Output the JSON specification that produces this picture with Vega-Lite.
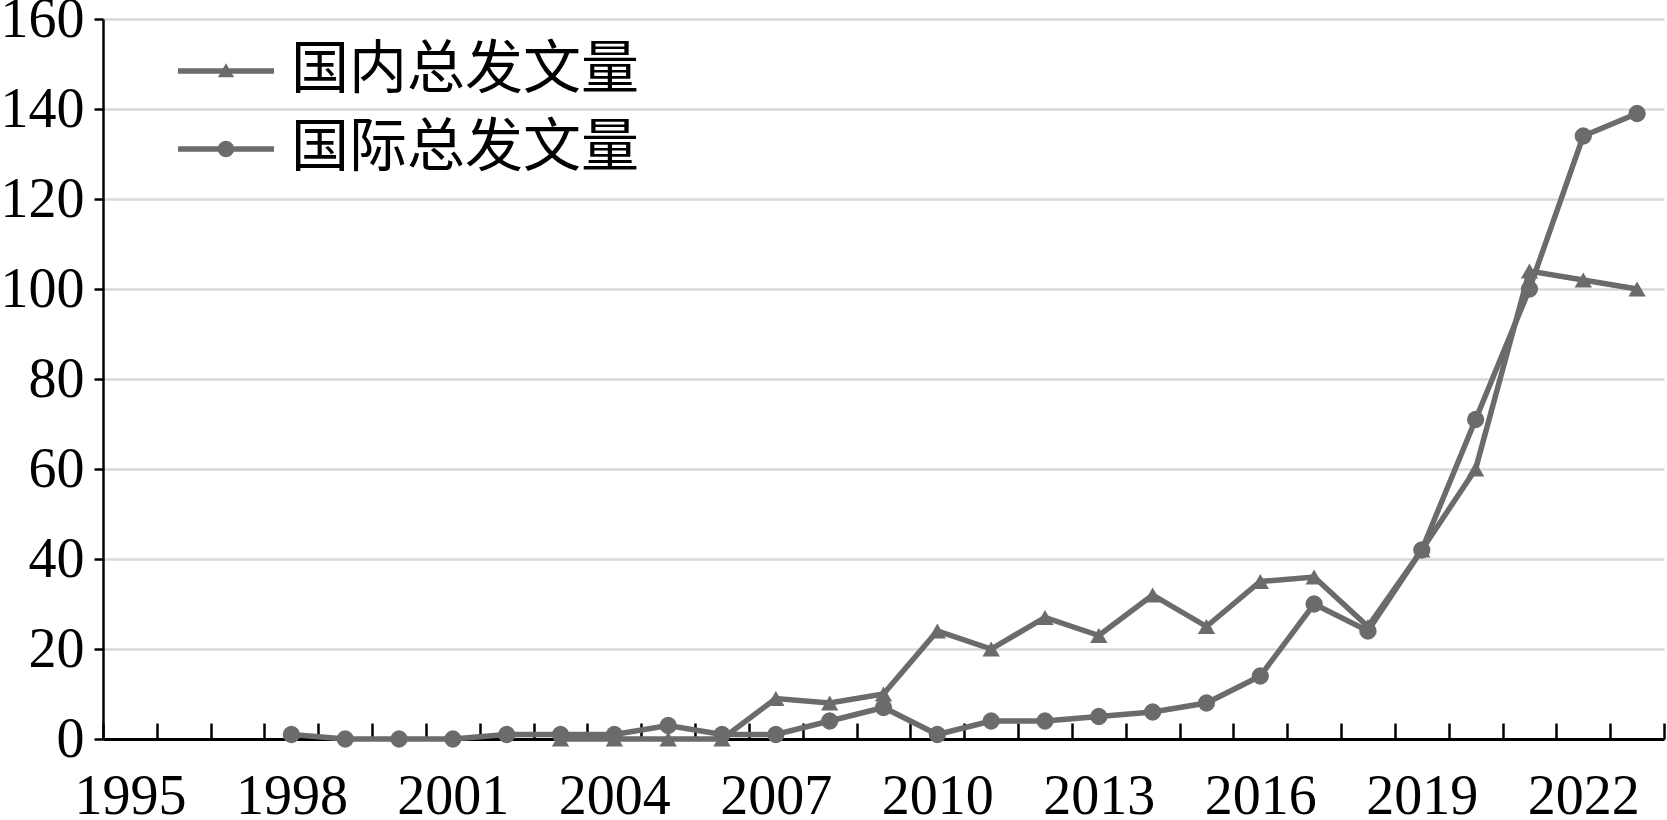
{
  "$schema": "https://vega.github.io/schema/vega-lite/v6.json",
  "autosize": {"type": "none"},
  "width": 1561,
  "height": 720,
  "padding": {"left": 103, "top": 19, "right": 3, "bottom": 81},
  "background": "white",
  "config": {
    "view": {"stroke": null},
    "axis": {
      "labelFont": "Liberation Serif",
      "labelFontSize": 56,
      "labelColor": "black",
      "domainColor": "black",
      "tickColor": "black",
      "title": null
    }
  },
  "data": {
    "values": [
      {"year": 1998, "series": "国际总发文量", "value": 1},
      {"year": 1999, "series": "国际总发文量", "value": 0},
      {"year": 2000, "series": "国际总发文量", "value": 0},
      {"year": 2001, "series": "国际总发文量", "value": 0},
      {"year": 2002, "series": "国际总发文量", "value": 1},
      {"year": 2003, "series": "国际总发文量", "value": 1},
      {"year": 2004, "series": "国际总发文量", "value": 1},
      {"year": 2005, "series": "国际总发文量", "value": 3},
      {"year": 2006, "series": "国际总发文量", "value": 1},
      {"year": 2007, "series": "国际总发文量", "value": 1},
      {"year": 2008, "series": "国际总发文量", "value": 4},
      {"year": 2009, "series": "国际总发文量", "value": 7},
      {"year": 2010, "series": "国际总发文量", "value": 1},
      {"year": 2011, "series": "国际总发文量", "value": 4},
      {"year": 2012, "series": "国际总发文量", "value": 4},
      {"year": 2013, "series": "国际总发文量", "value": 5},
      {"year": 2014, "series": "国际总发文量", "value": 6},
      {"year": 2015, "series": "国际总发文量", "value": 8},
      {"year": 2016, "series": "国际总发文量", "value": 14},
      {"year": 2017, "series": "国际总发文量", "value": 30},
      {"year": 2018, "series": "国际总发文量", "value": 24},
      {"year": 2019, "series": "国际总发文量", "value": 42},
      {"year": 2020, "series": "国际总发文量", "value": 71},
      {"year": 2021, "series": "国际总发文量", "value": 100},
      {"year": 2022, "series": "国际总发文量", "value": 134},
      {"year": 2023, "series": "国际总发文量", "value": 139},
      {"year": 2003, "series": "国内总发文量", "value": 0},
      {"year": 2004, "series": "国内总发文量", "value": 0},
      {"year": 2005, "series": "国内总发文量", "value": 0},
      {"year": 2006, "series": "国内总发文量", "value": 0},
      {"year": 2007, "series": "国内总发文量", "value": 9},
      {"year": 2008, "series": "国内总发文量", "value": 8},
      {"year": 2009, "series": "国内总发文量", "value": 10},
      {"year": 2010, "series": "国内总发文量", "value": 24},
      {"year": 2011, "series": "国内总发文量", "value": 20},
      {"year": 2012, "series": "国内总发文量", "value": 27},
      {"year": 2013, "series": "国内总发文量", "value": 23},
      {"year": 2014, "series": "国内总发文量", "value": 32},
      {"year": 2015, "series": "国内总发文量", "value": 25},
      {"year": 2016, "series": "国内总发文量", "value": 35},
      {"year": 2017, "series": "国内总发文量", "value": 36},
      {"year": 2018, "series": "国内总发文量", "value": 25},
      {"year": 2019, "series": "国内总发文量", "value": 42},
      {"year": 2020, "series": "国内总发文量", "value": 60},
      {"year": 2021, "series": "国内总发文量", "value": 104},
      {"year": 2022, "series": "国内总发文量", "value": 102},
      {"year": 2023, "series": "国内总发文量", "value": 100}
    ]
  },
  "encoding": {
    "x": {
      "field": "year",
      "type": "quantitative",
      "scale": {"domain": [1994.5, 2023.5], "nice": false, "zero": false},
      "axis": {
        "values": [1994.5, 1995.5, 1996.5, 1997.5, 1998.5, 1999.5, 2000.5, 2001.5, 2002.5, 2003.5, 2004.5, 2005.5, 2006.5, 2007.5, 2008.5, 2009.5, 2010.5, 2011.5, 2012.5, 2013.5, 2014.5, 2015.5, 2016.5, 2017.5, 2018.5, 2019.5, 2020.5, 2021.5, 2022.5, 2023.5],
        "labelExpr": "(datum.value - 1994.5) % 3 == 0 && datum.value < 2023 ? format(datum.value + 0.5, 'd') : ''",
        "labelOffset": 26.9,
        "labelFlush": false,
        "labelOverlap": false,
        "labelBound": false,
        "grid": false,
        "tickSize": -16,
        "tickWidth": 2.5,
        "domainWidth": 3,
        "labelPadding": 46,
        "labelBaseline": "top"
      }
    },
    "y": {
      "field": "value",
      "type": "quantitative",
      "scale": {"domain": [0, 160], "nice": false},
      "axis": {
        "values": [0, 20, 40, 60, 80, 100, 120, 140, 160],
        "grid": true,
        "gridColor": "#d9d9d9",
        "gridWidth": 2.5,
        "tickSize": 9,
        "tickWidth": 2.5,
        "domainWidth": 2.5,
        "labelPadding": 10,
        "labelFlush": false,
        "labelOverlap": false
      }
    }
  },
  "resolve": {"scale": {"shape": "independent"}},
  "layer": [
    {
      "mark": {"type": "line", "color": "#6b6b6b", "strokeWidth": 5.5},
      "encoding": {"detail": {"field": "series"}}
    },
    {
      "mark": {"type": "point", "filled": true, "color": "#6b6b6b", "opacity": 1, "size": 300},
      "encoding": {
        "shape": {
          "field": "series",
          "type": "nominal",
          "scale": {"domain": ["国内总发文量", "国际总发文量"], "range": ["triangle-up", "circle"]},
          "legend": null
        }
      }
    },
    {
      "transform": [{"filter": "datum.year < 0"}],
      "mark": {"type": "point", "filled": true, "color": "#6b6b6b", "opacity": 1, "size": 9216},
      "encoding": {
        "shape": {
          "field": "series",
          "type": "nominal",
          "scale": {
            "domain": ["国内总发文量", "国际总发文量"],
            "range": [
              "M-1,-0.057H1V0.057H-1ZM-0.17,0.13L0,-0.16L0.17,0.13Z",
              "M-1,-0.057H1V0.057H-1ZM0.17,0A0.17,0.17 0 1,1 -0.17,0A0.17,0.17 0 1,1 0.17,0Z"
            ]
          },
          "legend": {
            "title": null,
            "orient": "none",
            "legendX": 74,
            "legendY": 3,
            "padding": 0,
            "labelFont": "Noto Sans CJK SC",
            "labelFontSize": 58,
            "labelColor": "black",
            "labelLimit": 1000,
            "labelOffset": 16,
            "rowPadding": 0,
            "symbolSize": 9216,
            "symbolFillColor": "#6b6b6b",
            "symbolOpacity": 1
          }
        }
      }
    }
  ]
}
